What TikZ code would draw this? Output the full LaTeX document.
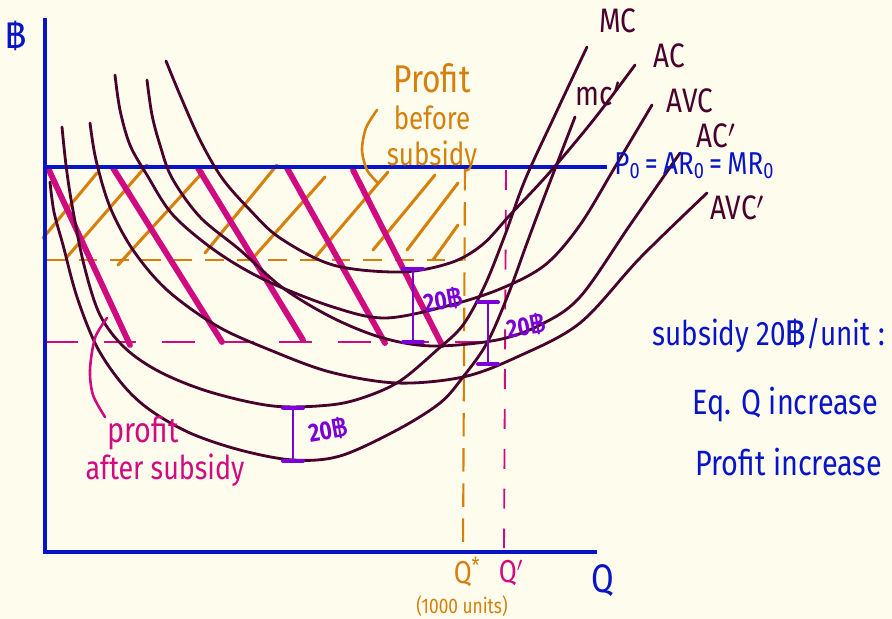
\documentclass[tikz,border=0pt]{standalone}
\usepackage{fontspec}
\setmainfont{Fira Sans}[FakeStretch=0.82]
\newfontfamily\bahtfont[Script=Thai]{Loma}
\usepackage{tikz}
\usetikzlibrary{arrows.meta}
\definecolor{paper}{RGB}{254,252,237}
\definecolor{inkblue}{RGB}{8,20,200}
\definecolor{inkmaroon}{RGB}{72,0,45}
\definecolor{inkorange}{RGB}{214,128,12}
\definecolor{inkpink}{RGB}{208,10,128}
\definecolor{inkpurple}{RGB}{122,0,215}
\newcommand{\bahtsign}{{\bahtfont ฿}}
\newcommand{\lowzero}{\raisebox{-0.25ex}{\fontsize{19}{19}\selectfont 0}}

\begin{document}
\begin{tikzpicture}[x=0.03cm, y=-0.03cm, >=Stealth,
    curve/.style={inkmaroon, line width=2.4pt, line cap=round, smooth, tension=0.55},
    curvelab/.style={inkmaroon, inner sep=0pt, font=\fontsize{29}{30}\selectfont},
    hatchold/.style={inkorange, line width=2.6pt, line cap=round},
    hatchnew/.style={inkpink, line width=5pt, line cap=round},
    gapbar/.style={inkpurple, line width=2.4pt},
    gapcap/.style={inkpurple, line width=3.4pt, line cap=round},
    gaplab/.style={inkpurple, inner sep=0pt, rotate=10, font=\fontsize{22}{22}\selectfont\bfseries},
    note/.style={inkblue, inner sep=0pt, anchor=west, font=\fontsize{30}{32}\selectfont}]
  \useasboundingbox (0,0) rectangle (892,619);
  \fill[paper] (0,0) rectangle (892,619);

  % Profit before subsidy (orange hatch)
  \foreach \xa/\ya/\xb/\yb in {43/238/97/173, 67/257/147/165, 118/265/203/172,
      205/253/277/165, 253/258/325/177, 313/260/388/172, 373/250/435/175,
      407/250/458/183, 433/260/458/225}
    \draw[hatchold] (\xa,\ya) -- (\xb,\yb);
  \draw[inkorange, line width=2.4pt, dash pattern=on 16pt off 11pt] (47,260) -- (463,260);
  \draw[inkorange, line width=1.8pt, dash pattern=on 20pt off 10pt] (465,167) -- (463,551);

  % Profit after subsidy (pink hatch)
  \foreach \xa/\ya/\xb/\yb in {48/168/130/345, 113/168/222/342, 198/168/303/340,
      287/168/385/343, 353/170/442/345}
    \draw[hatchnew] (\xa,\ya) -- (\xb,\yb);
  \draw[inkpink, line width=2.4pt, dash pattern=on 28pt off 22pt] (45,342) -- (507,342);
  \draw[inkpink, line width=1.6pt, dash pattern=on 17pt off 17pt] (506,170) -- (504,548);

  % Axes and price line
  \draw[inkblue, line width=3.2pt] (45,18) -- (45,552) -- (597,552);
  \draw[inkblue, line width=2.8pt] (45,167) -- (607,167);

  % Cost curves
  \draw[curve] plot coordinates {(62,127) (66,165) (72,205) (84,265) (100,315)
      (125,348) (160,372) (210,392) (273,406) (330,405) (365,397) (400,381)
      (437,350) (463,325) (485,285) (505,235) (525,180) (555,115) (587,47)};
  \draw[curve] plot coordinates {(50,182) (54,212) (63,245) (77,297) (97,347)
      (123,385) (150,410) (190,433) (240,450) (293,460) (340,456) (397,430)
      (440,403) (463,377) (487,343) (508,295) (527,243) (545,195) (575,117)};
  \draw[curve] plot coordinates {(115,75) (120,110) (130,145) (147,175) (173,215)
      (217,252) (267,281) (333,307) (385,318) (447,306) (500,289) (545,265)
      (580,225) (615,167) (652,105)};
  \draw[curve] plot coordinates {(166,61) (180,95) (200,140) (222,178) (250,210)
      (280,238) (333,265) (400,272) (450,263) (482,245) (510,215) (550,172)
      (595,118) (635,65)};
  \draw[curve] plot coordinates {(147,80) (152,115) (160,145) (172,178) (200,217)
      (240,250) (283,288) (333,318) (383,338) (433,346) (497,340) (540,325)
      (580,297) (630,225) (680,153)};
  \draw[curve] plot coordinates {(90,123) (96,160) (110,207) (133,250) (167,290)
      (217,326) (270,350) (330,372) (397,383) (463,377) (517,357) (580,323)
      (640,258) (707,193)};

  % 20 baht gaps
  \foreach \x/\ya/\yb in {413/269/342, 488/302/364, 293/408/461} {
    \draw[gapbar] (\x,\ya) -- (\x,\yb);
    \draw[gapcap] (\x-10,\ya) -- (\x+10,\ya) (\x-10,\yb) -- (\x+10,\yb);
  }
  \node[gaplab] (gapac) at (443,300) {20\bahtsign};
  \node[gaplab] (gapavc) at (526,326) {20\bahtsign};
  \node[gaplab] (gapmc) at (328,430) {20\bahtsign};

  % Curve labels
  \node[curvelab] (mclab) at (618,21) {MC};
  \node[curvelab] (aclab) at (669,56) {AC};
  \node[curvelab] (avclab) at (690,101) {AVC};
  \node[curvelab] (mcplab) at (598,94) {mc$'$};
  \node[curvelab] (acplab) at (716,136) {AC$'$};
  \node[curvelab] (avcplab) at (737,208) {AVC$'$};
  \node[inkblue, inner sep=0pt, font=\fontsize{27}{29}\selectfont] (pricelab)
    at (694,166) {P\lowzero\,=\,AR\lowzero\,=\,MR\lowzero};

  % Profit notes
  \draw[inkorange, line width=2.2pt, smooth, line cap=round] plot coordinates
    {(377,110) (366,128) (362,150) (367,170) (377,182)};
  \node[inkorange, inner sep=0pt, align=center, font=\fontsize{27}{31}\selectfont]
    (beforelab) at (432,118) {{\fontsize{33}{31}\selectfont Profit}\\before\\subsidy};
  \draw[inkpink, line width=2.2pt, smooth, line cap=round] plot coordinates
    {(107,318) (95,338) (90,370) (93,395) (105,417)};
  \node[inkpink, inner sep=0pt, font=\fontsize{30}{30}\selectfont] (afterlab1) at (143,433) {profit};
  \node[inkpink, inner sep=0pt, font=\fontsize{28}{28}\selectfont] (afterlab2) at (165,470) {after subsidy};

  % Axis labels
  \node[inkblue, inner sep=0pt, font=\fontsize{30}{30}\selectfont] (bahtlab) at (16,36) {\bahtsign};
  \node[inkblue, inner sep=0pt, font=\fontsize{34}{34}\selectfont] (qlab) at (603,581) {Q};
  \node[inkorange, inner sep=0pt, font=\fontsize{27}{27}\selectfont] (qstar) at (467,572) {Q\textsuperscript{*}};
  \node[inkpink, inner sep=0pt, font=\fontsize{27}{27}\selectfont] (qprime) at (511,573) {Q$'$};
  \node[inkorange, inner sep=0pt, font=\fontsize{18}{18}\selectfont] (unitlab) at (462,606) {(1000 units)};

  % Summary
  \node[note, font=\fontsize{29}{32}\selectfont] (sublab) at (652,335) {subsidy 20\bahtsign/unit :};
  \node[note] (eqlab) at (692,405) {Eq. Q increase};
  \node[note] (proflab) at (695,462) {Profit increase};
\end{tikzpicture}
\end{document}
